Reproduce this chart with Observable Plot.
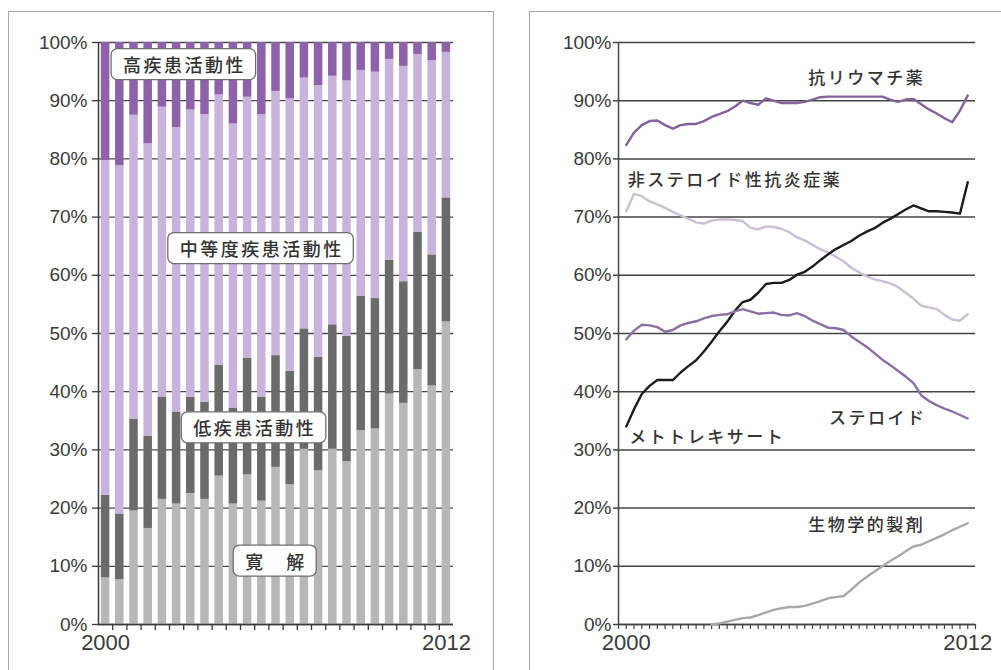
<!DOCTYPE html>
<html><head><meta charset="utf-8">
<script src="https://cdn.jsdelivr.net/npm/d3@7"></script>
<script src="https://cdn.jsdelivr.net/npm/@observablehq/plot@0.6"></script>
<style>
body{margin:0;background:#fff;}
#wrap{position:relative;width:1001px;height:670px;overflow:hidden;background:#fff;}
.frame{position:absolute;border:1.5px solid #aaa3b3;box-sizing:border-box;}
#left,#right{position:absolute;top:0;}
#left{left:0px;}
#right{left:500px;}
</style></head>
<body><div id="wrap">
<div class="frame" style="left:8px;top:11px;width:486px;height:700px"></div>
<div class="frame" style="left:529px;top:11px;width:500px;height:700px"></div>
<div id="left"></div><div id="right"></div>
</div>
<script>
// ---------- left panel data (semi-annual, 2000–2012) ----------
const periods = ["2000","2000.5","2001","2001.5","2002","2002.5","2003","2003.5","2004","2004.5","2005","2005.5","2006","2006.5","2007","2007.5","2008","2008.5","2009","2009.5","2010","2010.5","2011","2011.5","2012"];
const remission        = [8.0, 7.7, 19.5, 16.5, 21.5, 20.7, 22.5, 21.5, 25.5, 20.7, 25.7, 21.2, 27.0, 24.0, 30.1, 26.4, 30.1, 28.0, 33.3, 33.6, 39.6, 38.0, 43.8, 41.0, 52.0];
const lowActivity      = [14.2, 11.3, 15.8, 15.8, 17.6, 15.8, 16.5, 16.7, 19.0, 16.5, 20.0, 17.8, 19.2, 19.5, 20.7, 19.5, 21.4, 21.5, 23.1, 22.4, 23.0, 20.9, 23.6, 22.5, 21.3];
const moderateActivity = [57.5, 59.8, 52.2, 50.3, 49.8, 48.9, 49.4, 49.4, 46.5, 48.8, 44.9, 48.6, 45.4, 46.8, 43.1, 46.7, 42.7, 43.9, 38.8, 38.9, 34.5, 37.0, 30.5, 33.4, 25.0];
const highActivity     = [20.3, 21.2, 12.5, 17.4, 11.1, 14.6, 11.6, 12.4, 9.0, 14.0, 9.4, 12.4, 8.4, 9.7, 6.1, 7.4, 5.8, 6.6, 4.8, 5.1, 2.9, 4.1, 2.1, 3.1, 1.7];
const stackOrder = ["寛解","低疾患活動性","中等度疾患活動性","高疾患活動性"];
const barColors  = ["#b7b7b7","#6b6b6b","#c8b3dc","#8e62a8"];
const leftLabels = [
  {text:"高疾患活動性", period:"2002.5", y:95.9, dx:8},
  {text:"中等度疾患活動性", period:"2005.5", y:64.3, dx:0},
  {text:"低疾患活動性", period:"2005.5", y:33.5, dx:-7},
  {text:"寛　解", period:"2006", y:10.6, dx:0}
];
const yTicks = [0,10,20,30,40,50,60,70,80,90,100];
const xEndLabels = ["2000","2012"];

// ---------- right panel data (period index 1..45 from 2000 to 2012) ----------
const dmard = [82.4,84.5,85.8,86.5,86.6,85.8,85.2,85.8,86.0,86.0,86.5,87.2,87.7,88.2,89.0,90.0,89.6,89.3,90.4,90.0,89.6,89.6,89.6,89.8,90.2,90.6,90.7,90.7,90.7,90.7,90.7,90.7,90.7,90.7,90.2,89.8,90.2,90.3,89.4,88.5,87.8,87.0,86.3,88.3,90.9];
const nsaid = [71.0,74.0,73.6,72.7,72.2,71.6,70.9,70.3,69.7,69.1,68.9,69.4,69.6,69.6,69.5,69.3,68.2,67.9,68.4,68.3,68.0,67.4,66.5,66.0,65.2,64.5,63.9,63.2,62.4,61.3,60.5,59.8,59.3,59.0,58.6,58.0,57.0,56.0,54.8,54.5,54.2,53.2,52.4,52.2,53.3];
const mtx = [34.0,37.0,39.6,41.0,42.0,42.0,42.0,43.3,44.4,45.4,46.9,48.6,50.4,52.0,53.9,55.4,55.8,57.0,58.5,58.7,58.7,59.2,60.1,60.6,61.5,62.6,63.6,64.5,65.2,65.9,66.8,67.5,68.1,69.0,69.7,70.5,71.3,72.0,71.5,71.0,71.0,70.9,70.8,70.6,76.0];
const steroid = [49.0,50.5,51.5,51.4,51.1,50.3,50.6,51.4,51.8,52.1,52.6,53.0,53.2,53.3,53.8,54.2,53.8,53.4,53.5,53.6,53.2,53.1,53.5,53.0,52.2,51.6,51.0,50.9,50.6,49.5,48.6,47.7,46.6,45.5,44.6,43.6,42.6,41.5,39.4,38.4,37.7,37.1,36.6,36.0,35.4];
const biologic = [null,null,null,null,null,null,null,null,null,null,null,0.0,0.2,0.5,0.8,1.1,1.2,1.6,2.1,2.5,2.8,3.0,3.0,3.2,3.6,4.0,4.5,4.7,4.9,6.0,7.2,8.2,9.1,10.0,10.9,11.7,12.6,13.4,13.7,14.3,14.9,15.5,16.2,16.8,17.4];
const seriesNames = ["抗リウマチ薬","非ステロイド性抗炎症薬","メトトレキサート","ステロイド","生物学的製剤"];
const seriesColors = ["#85629c","#cbbfd4","#1c1c1c","#8d6fa5","#a8a8a8"];
const rightLabels = [
  {text:"抗リウマチ薬", i:32.0, y:93.8, anchor:"middle"},
  {text:"非ステロイド性抗炎症薬", i:1.2, y:76.3, anchor:"start"},
  {text:"メトトレキサート", i:1.4, y:32.1, anchor:"start"},
  {text:"ステロイド", i:33.4, y:35.4, anchor:"middle"},
  {text:"生物学的製剤", i:32.0, y:17.0, anchor:"middle"}
];
const periodTicks = d3.range(0, 47);
const periodLabelAt = [1, 45];

// ---------- build left ----------
const barRows = periods.flatMap((p, i) => [
  {period:p, cls:stackOrder[0], v:remission[i]},
  {period:p, cls:stackOrder[1], v:lowActivity[i]},
  {period:p, cls:stackOrder[2], v:moderateActivity[i]},
  {period:p, cls:stackOrder[3], v:highActivity[i]}
]);
const LW = 500, LH = 670, LML = 98, LMR = 47;
const step = (LW - LML - LMR) / periods.length;
const jp = "'Noto Sans CJK JP', sans-serif";
const baseStyle = {fontFamily: "'Liberation Sans', Arial, sans-serif", fontSize: "19px", color: "#3a3a3a", background: "transparent", overflow: "visible"};

const left = Plot.plot({
  width: LW, height: LH, marginTop: 42, marginBottom: 46, marginLeft: LML, marginRight: LMR,
  style: baseStyle,
  x: {type: "band", domain: periods, paddingInner: 0.4, paddingOuter: 0.2, round: false, axis: null},
  y: {domain: [0, 100], axis: null},
  color: {domain: stackOrder, range: barColors},
  marks: [
    Plot.gridY(yTicks, {stroke: "#4a4a4a", strokeOpacity: 1, strokeWidth: 1.3}),
    Plot.barY(barRows, {x: "period", y: "v", fill: "cls", order: stackOrder}),
    Plot.axisY(yTicks, {tickFormat: d => d + "%", tickSize: 6, tickPadding: 5, stroke: "#3a3a3a", strokeWidth: 1.3, label: null}),
    Plot.ruleY([0], {stroke: "#3a3a3a", strokeWidth: 1.5}),
    Plot.ruleX([periods[0]], {y1: 0, y2: 100, dx: -step / 2, stroke: "#3a3a3a", strokeWidth: 1.5}),
    Plot.axisX(periods.slice(0, -1), {tickSize: 6, tickFormat: () => "", dx: step / 2, stroke: "#3a3a3a", strokeWidth: 1.3, label: null}),
    Plot.axisX(xEndLabels, {tickSize: 0, tickPadding: 10, fontSize: 22, label: null}),
    ...leftLabels.map(l => Plot.text([l], {x: "period", y: "y", text: "text", dx: l.dx, fontSize: 18, fill: "#333", fontFamily: jp, fontWeight: 500}))
  ]
});
document.getElementById("left").appendChild(left);

// ---------- build right ----------
const series = [dmard, nsaid, mtx, steroid, biologic];
const lineRows = series.flatMap((arr, s) => arr.map((v, i) => ({i: i + 1, v, name: seriesNames[s]})));
const right = Plot.plot({
  width: 501, height: 670, marginTop: 42, marginBottom: 46, marginLeft: 118, marginRight: 26,
  style: baseStyle,
  x: {domain: [0, 46], axis: null},
  y: {domain: [0, 100], axis: null},
  color: {domain: seriesNames, range: seriesColors},
  marks: [
    Plot.gridY(yTicks, {stroke: "#444", strokeOpacity: 1, strokeWidth: 1.5}),
    Plot.axisY(yTicks, {tickFormat: d => d + "%", tickSize: 5, tickPadding: 2, stroke: "#444", strokeWidth: 1.5, label: null}),
    Plot.ruleX([0], {stroke: "#444", strokeWidth: 1.5}),
    Plot.ruleY([0], {stroke: "#444", strokeWidth: 1.5}),
    Plot.axisX(periodTicks, {tickSize: 5, tickFormat: () => "", stroke: "#444", strokeWidth: 1.2, label: null}),
    Plot.axisX(periodLabelAt, {tickSize: 0, tickPadding: 10, fontSize: 22, tickFormat: (d, k) => xEndLabels[k], label: null}),
    Plot.line(lineRows.filter(d => d.v != null), {x: "i", y: "v", z: "name", stroke: "name", strokeWidth: 2.4}),
    Plot.text(rightLabels.filter(d => d.anchor === "middle"), {x: "i", y: "y", text: "text", textAnchor: "middle", fontSize: 17, fill: "#333", fontFamily: jp, fontWeight: 500}),
    Plot.text(rightLabels.filter(d => d.anchor === "start"), {x: "i", y: "y", text: "text", textAnchor: "start", fontSize: 17, fill: "#333", fontFamily: jp, fontWeight: 500})
  ]
});
document.getElementById("right").appendChild(right);

// letter spacing for CJK labels + rounded boxes on left labels
d3.selectAll("#left g[aria-label='text'] text, #right g[aria-label='text'] text").style("letter-spacing", "2.5px");
d3.selectAll("#left g[aria-label='text'] text").each(function () {
  const b = this.getBBox();
  const padX = 12, h = 31;
  const cy = b.y + b.height / 2;
  const r = document.createElementNS("http://www.w3.org/2000/svg", "rect");
  r.setAttribute("x", b.x - padX);
  r.setAttribute("y", cy - h / 2);
  r.setAttribute("width", b.width - 2.5 + 2 * padX);
  r.setAttribute("height", h);
  r.setAttribute("rx", 6);
  r.setAttribute("fill", "#fff");
  r.setAttribute("stroke", "#6e6e6e");
  r.setAttribute("stroke-width", 1.3);
  const t = this.getAttribute("transform");
  if (t) r.setAttribute("transform", t);
  this.parentNode.insertBefore(r, this);
});
</script>
</body></html>
